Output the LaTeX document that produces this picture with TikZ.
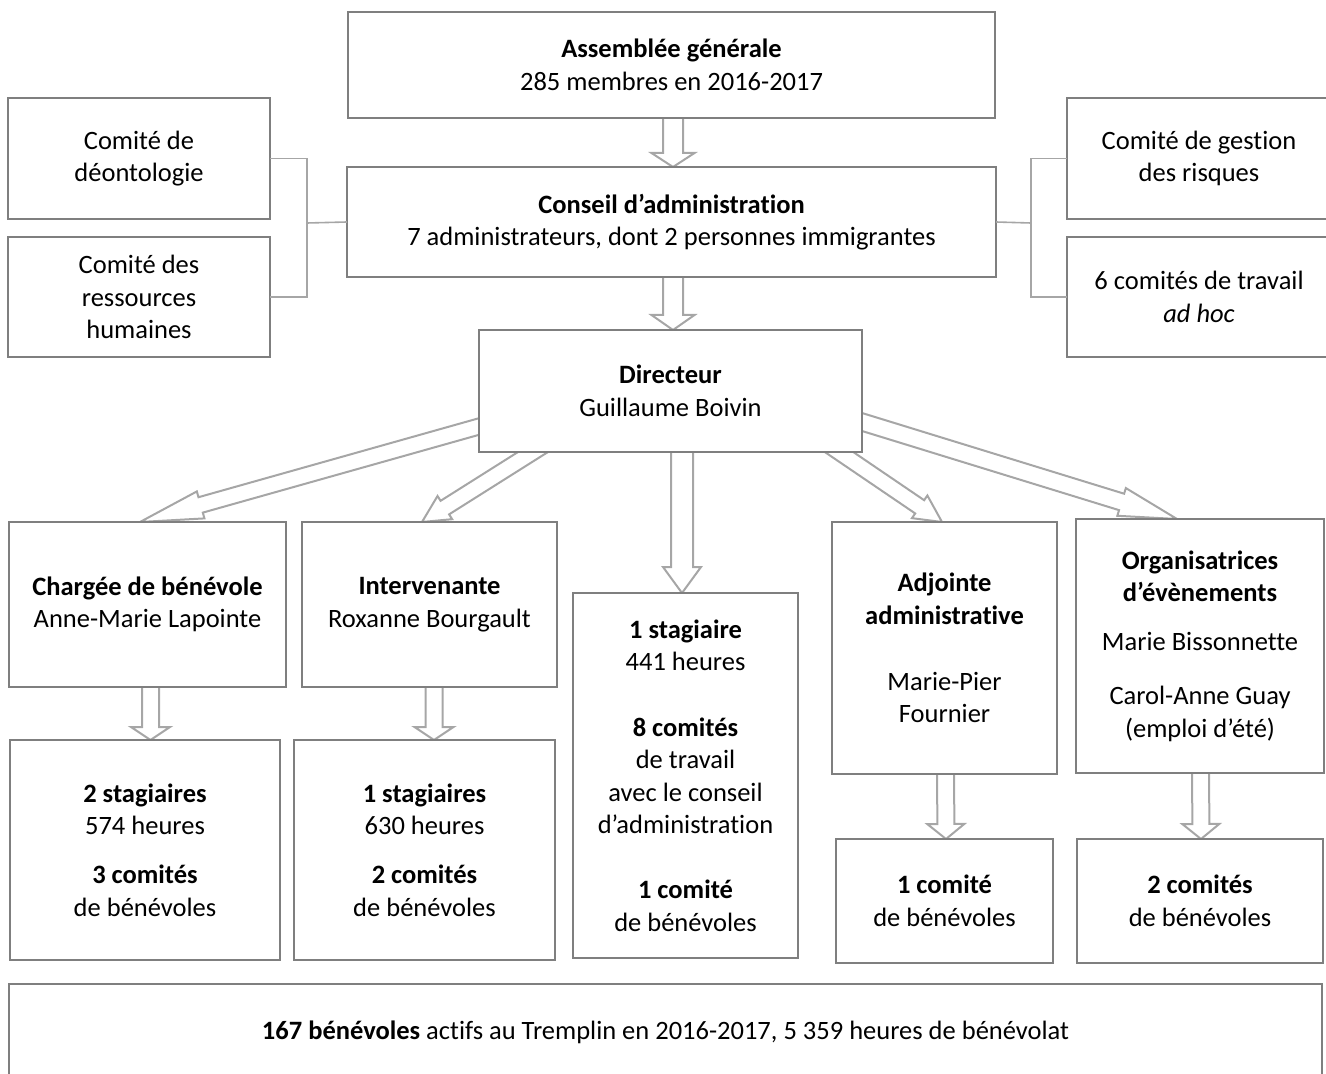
\documentclass[tikz,border=0pt]{standalone}
\usepackage{fontspec}
\setmainfont{Carlito}[Ligatures=NoCommon]
\usetikzlibrary{calc,backgrounds}
\definecolor{boxgray}{HTML}{7F7F7F}
\definecolor{arrgray}{HTML}{A6A6A6}
\newcommand\blockarrow[5]{%
 \coordinate (ba-s) at ($(#1)!-8pt!(#2)$);
 \coordinate (ba-e) at (#2);
 \coordinate (ba-h) at ($(ba-e)!#5!(ba-s)$);
 \draw[arr] ($(ba-s)!#3!90:(ba-e)$) -- ($(ba-h)!#3!90:(ba-e)$) -- ($(ba-h)!#4!90:(ba-e)$) -- (ba-e) -- ($(ba-h)!#4!-90:(ba-e)$) -- ($(ba-h)!#3!-90:(ba-e)$) -- ($(ba-s)!#3!-90:(ba-e)$);}
\newcommand\bx[6]{\node[box, minimum width={(#4-#2)*0.5pt}, minimum height={(#5-#3)*0.5pt}] (#1) at ({(#2+#4)/2},{(#3+#5)/2}) {#6};}
\tikzset{
 box/.style={draw=boxgray, line width=1pt, fill=white, align=center, inner sep=0pt, outer sep=0pt, font=\fontsize{13.25}{16.25}\selectfont},
 arr/.style={draw=arrgray, line width=1pt, line join=miter},
 conn/.style={draw=arrgray, line width=0.8pt}
}
\begin{document}
\begin{tikzpicture}[x=0.5pt,y=-0.5pt]
\useasboundingbox (0,0) rectangle (1326,1074);
% top
\bx{ag}{348}{12}{995}{118}{\textbf{Assemblée générale}\\285 membres en 2016-2017}
\bx{ca}{347}{167}{996}{277}{\textbf{Conseil d’administration}\\7 administrateurs, dont 2 personnes immigrantes}
\bx{deon}{8}{98}{270}{219}{Comité de\\déontologie}
\bx{rh}{8}{237}{270}{357}{Comité des\\ressources\\humaines}
\bx{risk}{1067}{98}{1331}{219}{Comité de gestion\\des risques}
\bx{adhoc}{1067}{237}{1331}{357}{6 comités de travail\\\textit{ad hoc}}
\bx{dir}{479}{330}{862}{452}{\textbf{Directeur}\\Guillaume Boivin}
% second row
\bx{c1}{9}{522}{286}{687}{\textbf{Chargée de bénévole}\\Anne-Marie Lapointe}
\bx{c2}{302}{522}{557}{687}{\textbf{Intervenante}\\Roxanne Bourgault}
\bx{mid}{573}{593}{798}{958}{\textbf{1 stagiaire}\\441 heures\\[16.5pt]\textbf{8 comités}\\de travail\\avec le conseil\\d’administration\\[16.25pt]\textbf{1 comité}\\de bénévoles}
\bx{c4}{832}{522}{1057}{774}{\textbf{Adjointe}\\\textbf{administrative}\\[16.75pt]Marie-Pier\\Fournier}
\bx{c5}{1076}{519}{1324}{773}{\textbf{Organisatrices}\\\textbf{d’évènements}\\[8.25pt]Marie Bissonnette\\[10.75pt]Carol-Anne Guay\\(emploi d’été)}
% third row
\bx{b1}{10}{740}{280}{960}{\textbf{2 stagiaires}\\574 heures\\[8.25pt]\textbf{3 comités}\\de bénévoles}
\bx{b2}{294}{740}{555}{960}{\textbf{1 stagiaires}\\630 heures\\[8.25pt]\textbf{2 comités}\\de bénévoles}
\bx{b4}{836}{839}{1053}{963}{\textbf{1 comité}\\de bénévoles}
\bx{b5}{1077}{839}{1323}{963}{\textbf{2 comités}\\de bénévoles}
% footer
\bx{foot}{9}{984}{1322}{1080}{\textbf{167 bénévoles} actifs au Tremplin en 2016-2017, 5~359 heures de bénévolat}
% bracket connectors
\coordinate (lb) at (307,223);
\coordinate (rb) at (1031,223);
\draw[conn] (deon.east) -| (lb) |- (rh.east);
\draw[conn] (ca.west) -- (lb);
\draw[conn] (risk.west) -| (rb) |- (adhoc.west);
\draw[conn] (ca.east) -- (rb);
% arrows
\begin{scope}[on background layer]
\coordinate (t0s) at ($(ag.south)+(1.5,0)$);
\coordinate (t0e) at ($(ca.north)+(1.5,0)$);
\blockarrow{t0s}{t0e}{5pt}{10.75pt}{7pt}
\coordinate (t1s) at ($(ca.south)+(1.5,0)$);
\coordinate (t1e) at ($(dir.north)+(2.5,0)$);
\blockarrow{t1s}{t1e}{5pt}{10.75pt}{7.5pt}
\coordinate (a1s) at ($(dir.west)+(0,35.5)$);
\coordinate (a1e) at ($(c1.north)+(-7.5,0)$);
\blockarrow{a1s}{a1e}{4pt}{7pt}{31.5pt}
\coordinate (a2s) at ($(dir.south)+(-137.5,0)$);
\coordinate (a2e) at ($(c2.north)+(-7.5,0)$);
\blockarrow{a2s}{a2e}{4pt}{6.85pt}{13.5pt}
\coordinate (a3s) at ($(dir.south)+(11.5,0)$);
\coordinate (a3e) at ($(mid.north)+(-3.5,0)$);
\blockarrow{a3s}{a3e}{5.5pt}{9.5pt}{13pt}
\coordinate (a4s) at ($(dir.south)+(168.5,0)$);
\coordinate (a4e) at ($(c4.north)+(-2.5,0)$);
\blockarrow{a4s}{a4e}{4pt}{6.85pt}{13.5pt}
\coordinate (a5s) at ($(dir.east)+(0,31)$);
\coordinate (a5e) at ($(c5.north)+(-23,0)$);
\blockarrow{a5s}{a5e}{4.3pt}{7.25pt}{29pt}
\coordinate (d1s) at ($(c1.south)+(3,0)$);
\coordinate (d1e) at ($(b1.north)+(5.5,0)$);
\blockarrow{d1s}{d1e}{4.25pt}{9.75pt}{6.5pt}
\coordinate (d2s) at ($(c2.south)+(4.5,0)$);
\coordinate (d2e) at ($(b2.north)+(9.5,0)$);
\blockarrow{d2s}{d2e}{4.25pt}{9.75pt}{6.5pt}
\coordinate (d4s) at ($(c4.south)+(1,0)$);
\coordinate (d4e) at ($(b4.north)+(1.5,0)$);
\blockarrow{d4s}{d4e}{4.25pt}{9.25pt}{7.5pt}
\coordinate (d5s) at ($(c5.south)+(0.5,0)$);
\coordinate (d5e) at ($(b5.north)+(1,0)$);
\blockarrow{d5s}{d5e}{4.25pt}{9.25pt}{7.5pt}
\end{scope}
\end{tikzpicture}
\end{document}
